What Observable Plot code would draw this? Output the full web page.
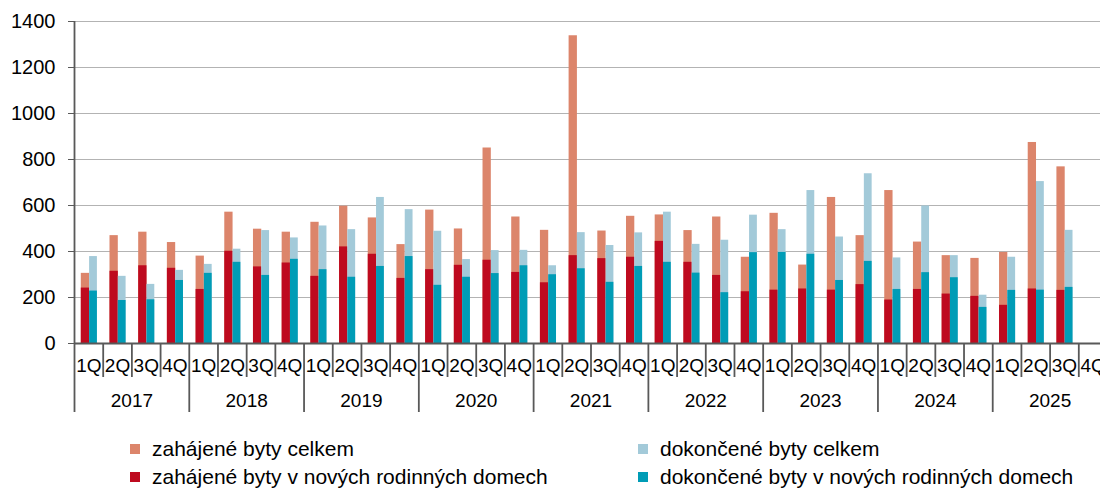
<!DOCTYPE html>
<html>
<head>
<meta charset="utf-8">
<script src="https://cdn.jsdelivr.net/npm/d3@7"></script>
<script src="https://cdn.jsdelivr.net/npm/@observablehq/plot@0.6"></script>
<style>
  html, body { margin: 0; padding: 0; background: #fff; }
  body { width: 1100px; height: 488px; overflow: hidden; font-family: "Liberation Sans", Arial, sans-serif; }
  #chart svg { display: block; overflow: hidden; }
  #chart svg [aria-label="y-axis tick"] { stroke: #595959; }
  #legend { position: relative; width: 1100px; height: 68px; }
  .item { position: absolute; display: flex; align-items: center; font-size: 21px; color: #000; white-space: nowrap; }
  .sw { width: 10px; height: 10px; display: inline-block; }
</style>
</head>
<body>
<div id="chart"></div>
<div id="legend"></div>
<script>
const years = ["2017","2018","2019","2020","2021","2022","2023","2024","2025"];
const quarters = ["1Q","2Q","3Q","4Q"];
const yTicks = [0,200,400,600,800,1000,1200,1400];

// zahájené byty celkem
const zahCelkem = [305,469,484,439, 380,571,497,484, 527,597,546,430, 580,498,850,550,
                   492,1338,489,553, 559,491,550,375, 566,341,635,469, 665,441,382,370, 396,874,768,null];
// zahájené byty v nových rodinných domech
const zahRD = [241,314,338,327, 235,401,333,350, 292,420,388,283, 321,340,362,309,
               264,382,369,375, 444,353,296,225, 232,237,232,256, 189,235,215,205, 166,237,231,null];
// dokončené byty celkem
const dokCelkem = [378,292,257,318, 344,410,491,459, 511,495,635,582, 488,365,404,405,
                   338,482,426,481, 571,431,449,558, 495,665,463,738, 372,598,382,210, 375,704,492,null];
// dokončené byty v nových rodinných domech
const dokRD = [228,187,190,274, 305,353,296,366, 321,288,335,378, 253,288,304,338,
               299,325,266,335, 353,306,221,395, 396,388,274,357, 235,308,286,157, 231,232,244,null];

const seriesNames = ["zahájené byty celkem","dokončené byty celkem","zahájené byty v nových rodinných domech","dokončené byty v nových rodinných domech"];
const colors = { zah: "#DC856B", zahRD: "#BE0A1F", dok: "#A3CAD9", dokRD: "#009CB6" };

const rows = [];
years.forEach((y, yi) => quarters.forEach((q, qi) => {
  const i = yi * 4 + qi;
  rows.push({ key: y + " " + q, year: y, q, zah: zahCelkem[i], zahRD: zahRD[i], dok: dokCelkem[i], dokRD: dokRD[i] });
}));
const keys = rows.map(d => d.key);
const x0 = 74, x1 = 1107;
const bw = (x1 - x0) / keys.length;
const valid = rows.filter(d => d.zah != null);

const axisColor = "#595959";

const chart = Plot.plot({
  width: 1100,
  height: 420,
  marginTop: 21,
  marginBottom: 77,
  marginLeft: 74,
  marginRight: 0,
  style: { fontFamily: "Liberation Sans, Arial, sans-serif", fontSize: "20px", color: "#000", background: "#fff" },
  x: { domain: keys, range: [x0, x1], padding: 0, round: false, axis: null },
  y: { domain: [0, 1400], ticks: yTicks, tickSize: 6, tickPadding: 13, label: null, tickFormat: d => String(d) },
  marks: [
    Plot.ruleY(yTicks.slice(1), { stroke: "#b3b3b3", strokeWidth: 1.2 }),
    Plot.barY(valid, { x: "key", y: "zah", fill: colors.zah, insetLeft: 6.8, insetRight: bw - 15.1 }),
    Plot.barY(valid, { x: "key", y: "zahRD", fill: colors.zahRD, insetLeft: 6.8, insetRight: bw - 15.1 }),
    Plot.barY(valid, { x: "key", y: "dok", fill: colors.dok, insetLeft: 15.1, insetRight: bw - 22.9 }),
    Plot.barY(valid, { x: "key", y: "dokRD", fill: colors.dokRD, insetLeft: 15.1, insetRight: bw - 22.9 }),
    Plot.ruleY([0], { stroke: axisColor, strokeWidth: 1.8 }),
    // vertical value axis line (continues as the first year separator)
    Plot.ruleX([keys[0]], { y1: 1400, y2: 0, dx: -bw / 2, insetBottom: -69, stroke: axisColor, strokeWidth: 1.8 }),
    // quarter separators
    Plot.ruleX(rows.filter(d => d.q !== "1Q"), { x: "key", y1: 0, y2: 0, dx: -bw / 2, insetBottom: -34, stroke: axisColor, strokeWidth: 1.8 }),
    // year separators
    Plot.ruleX(rows.filter(d => d.q === "1Q" && d.key !== keys[0]), { x: "key", y1: 0, y2: 0, dx: -bw / 2, insetBottom: -69, stroke: axisColor, strokeWidth: 1.8 }),
    // quarter labels
    Plot.text(rows, { x: "key", y: 0, text: "q", dy: 22, fontSize: 19, fill: "#000" }),
    // year labels
    Plot.text(rows.filter(d => d.q === "2Q"), { x: "key", y: 0, text: "year", dx: bw / 2, dy: 57, fontSize: 19, fill: "#000" })
  ]
});
document.getElementById("chart").appendChild(chart);

// legend
const legendItems = [
  { label: seriesNames[0], color: colors.zah, left: 130, top: 29 },
  { label: seriesNames[2], color: colors.zahRD, left: 130, top: 57 },
  { label: seriesNames[1], color: colors.dok, left: 638, top: 29 },
  { label: seriesNames[3], color: colors.dokRD, left: 638, top: 57 }
];
const legend = document.getElementById("legend");
legendItems.forEach(it => {
  const div = document.createElement("div");
  div.className = "item";
  div.style.left = it.left + "px";
  div.style.top = (it.top - 12) + "px";
  div.style.height = "24px";
  const sw = document.createElement("span");
  sw.className = "sw";
  sw.style.background = it.color;
  sw.style.marginRight = "12px";
  const tx = document.createElement("span");
  tx.textContent = it.label;
  div.appendChild(sw);
  div.appendChild(tx);
  legend.appendChild(div);
});
</script>
</body>
</html>
